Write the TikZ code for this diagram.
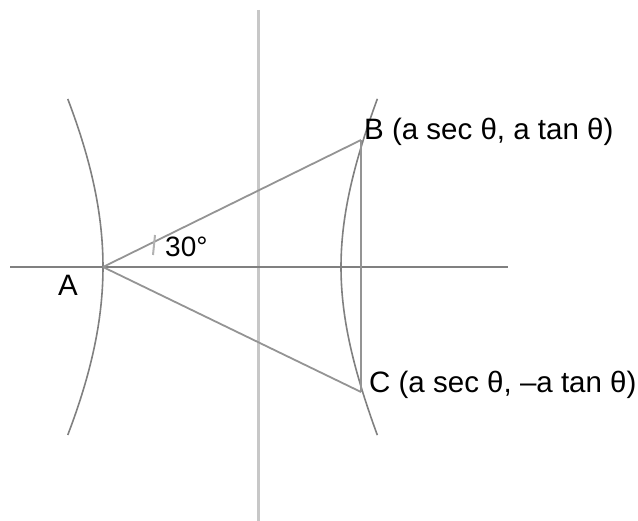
\documentclass[tikz,border=0pt]{standalone}
\usepackage{fontspec}
\setmainfont{Liberation Sans}
\begin{document}
\begin{tikzpicture}[x=1pt,y=-1pt,
  axisv/.style={draw=black!22,line width=3pt},
  axish/.style={draw=black!50,line width=1.8pt},
  seg/.style={draw=black!42,line width=1.8pt},
  curve/.style={draw=black!50,line width=1.6pt},
  lbl/.style={font=\fontsize{29.5}{34}\selectfont,inner sep=0pt}]
\useasboundingbox (0,0) rectangle (638,521);
\coordinate (xl) at (10,267);
\coordinate (xr) at (508,267);
\coordinate (yt) at (258,10);
\coordinate (yb) at (258,521);
\coordinate (A) at (103,267);
\coordinate (B) at (361,140);
\coordinate (C) at (361,392);
\coordinate (t1) at (155,235);
\coordinate (t2) at (153,255);
\draw[axisv] (yt) -- (yb);
\draw[axish] (xl) -- (xr);
% hyperbola branches
\draw[curve] plot[smooth,samples=40,domain=-0.66:0.66,variable=\t]
  ({259-156*cosh(\t)},{267+237*sinh(\t)});
\draw[curve] plot[smooth,samples=40,domain=-0.91:0.91,variable=\t]
  ({259+82*cosh(\t)},{267+161.6*sinh(\t)});
% triangle
\draw[seg] (A) -- (B);
\draw[seg] (A) -- (C);
\draw[seg] (B) -- (C);
% angle mark
\draw[draw=black!30,line width=2pt] (t1) -- (t2);
% labels
\node[lbl,anchor=base] (lA) at (68,296) {A};
\node[lbl,anchor=base west] (lB) at (364,140) {B (a sec θ, a tan θ)};
\node[lbl,anchor=base west] (lC) at (369,393) {C (a sec θ, –a tan θ)};
\node[lbl,anchor=base west,font=\fontsize{28}{32}\selectfont] (l30) at (165,257) {30°};
\end{tikzpicture}
\end{document}
